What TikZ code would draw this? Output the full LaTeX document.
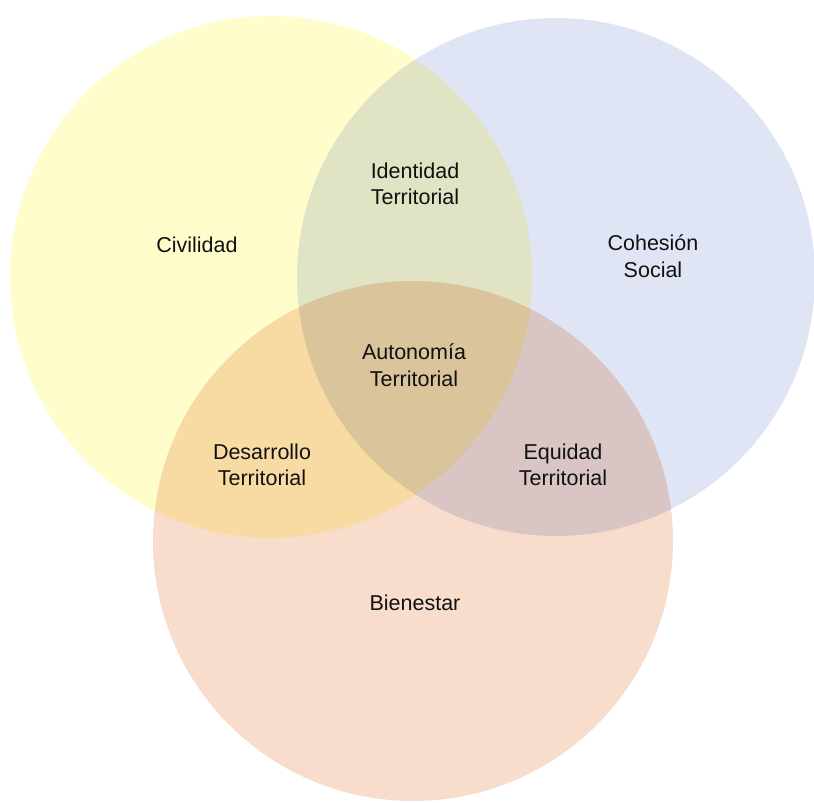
\documentclass[tikz,border=0pt]{standalone}
\usepackage{fontspec}
\setmainfont{Liberation Sans}
\definecolor{cyel}{HTML}{FFFDCC}
\definecolor{cblu}{HTML}{E0E5F5}
\definecolor{cora}{HTML}{F8DDCC}
\definecolor{ctxt}{HTML}{111111}
\begin{document}
\begin{tikzpicture}[x=1pt,y=-1pt,
  lbl/.style={align=center,text=ctxt,inner sep=0pt,font=\fontsize{21.5}{26.5}\selectfont},
  set/.style={draw=none}]
\useasboundingbox (0,0) rectangle (814,803);
\clip (0,0) rectangle (814,803);
\begin{scope}[blend group=multiply]
  \fill[cyel,set] (271,277) circle (261);
  \fill[cblu,set] (556,277) circle (259);
  \fill[cora,set] (413,541) circle (260);
\end{scope}
\node[lbl] (civ) at (197,245) {Civilidad};
\node[lbl] (coh) at (653,256) {Cohesión\\Social};
\node[lbl] (ide) at (415,184) {Identidad\\Territorial};
\node[lbl] (aut) at (414,365) {Autonomía\\Territorial};
\node[lbl] (des) at (262,465) {Desarrollo\\Territorial};
\node[lbl] (equ) at (563,465) {Equidad\\Territorial};
\node[lbl] (bie) at (415,603) {Bienestar};
\end{tikzpicture}
\end{document}
